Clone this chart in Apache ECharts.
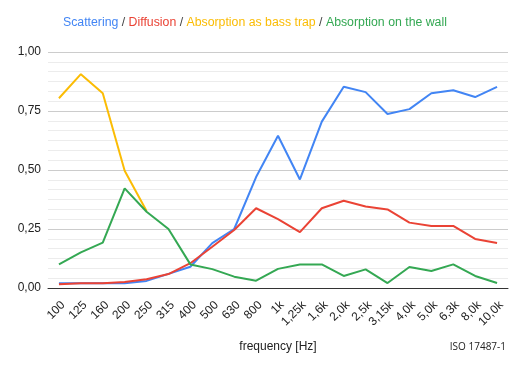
<!DOCTYPE html>
<html>
<head>
<meta charset="utf-8">
<script src="https://cdn.jsdelivr.net/npm/echarts@6/dist/echarts.min.js"></script>
<style>
html,body{margin:0;padding:0;background:#fff;}
#chart{width:527px;height:371px;}
</style>
</head>
<body>
<div id="chart"></div>
<script>
var categories = ['100','125','160','200','250','315','400','500','630','800','1k','1,25k','1,6k','2,0k','2,5k','3,15k','4,0k','5,0k','6,3k','8,0k','10,0k'];
var scattering = [0.02,0.02,0.02,0.02,0.03,0.06,0.09,0.19,0.25,0.47,0.645,0.46,0.705,0.853,0.83,0.737,0.758,0.825,0.838,0.809,0.852];
var diffusion  = [0.016,0.02,0.02,0.025,0.037,0.059,0.105,0.175,0.246,0.338,0.292,0.237,0.338,0.370,0.345,0.333,0.277,0.263,0.263,0.208,0.191];
var bassTrap   = [0.804,0.906,0.825,0.497,0.326,null,null,null,null,null,null,null,null,null,null,null,null,null,null,null,null];
var wall       = [0.100,0.151,0.192,0.422,0.323,0.25,0.100,0.080,0.048,0.031,0.081,0.100,0.100,0.051,0.079,0.021,0.089,0.072,0.100,0.051,0.021];
var yTicks = [0, 0.25, 0.5, 0.75, 1];

var FONT = 'Arial, "Liberation Sans", sans-serif';
var TS = 12.3;
var chart = echarts.init(document.getElementById('chart'), null, {renderer:'canvas'});
function mk(name, data, color){
  return {name:name, type:'line', data:data, symbol:'none', smooth:false,
    lineStyle:{width:2, color:color}, itemStyle:{color:color}, connectNulls:false};
}
chart.setOption({
  animation:false,
  backgroundColor:'#fff',
  title:{
    text:'{b|Scattering}{g| / }{r|Diffusion}{g| / }{y|Absorption as bass trap}{g| / }{gr|Absorption on the wall}',
    left:58, top:12,
    textStyle:{
      fontFamily:FONT, fontSize:TS, fontWeight:'normal',
      rich:{
        b:{color:'#4285F4', fontFamily:FONT, fontSize:TS},
        r:{color:'#EA4335', fontFamily:FONT, fontSize:TS},
        y:{color:'#FBBC04', fontFamily:FONT, fontSize:TS},
        gr:{color:'#34A853', fontFamily:FONT, fontSize:TS},
        g:{color:'#444', fontFamily:FONT, fontSize:TS}
      }
    }
  },
  grid:{left:48, right:19, top:52, bottom:83, containLabel:false},
  xAxis:{
    type:'category', data:categories, boundaryGap:true,
    name:'frequency [Hz]', nameLocation:'middle', nameGap:53,
    nameTextStyle:{fontFamily:FONT, fontSize:12, color:'#222'},
    axisLine:{show:true, lineStyle:{color:'#333', width:1}},
    axisTick:{show:false},
    axisLabel:{rotate:45, interval:0, margin:11, verticalAlign:'top', fontFamily:FONT, fontSize:12, color:'#222'},
    splitLine:{show:false}
  },
  yAxis:{
    type:'value', min:yTicks[0], max:yTicks[yTicks.length-1], interval:0.25,
    axisLine:{show:false}, axisTick:{show:false},
    axisLabel:{margin:7, fontFamily:FONT, fontSize:12, color:'#222',
      formatter:function(v){return v.toFixed(2).replace('.',',');}},
    splitLine:{show:true, lineStyle:{color:'#cccccc', width:1}},
    minorTick:{show:false, splitNumber:6},
    minorSplitLine:{show:true, lineStyle:{color:'#ececec', width:1}}
  },
  graphic:[{type:'text', right:21, top:342,
    style:{text:'ISO 17487-1', font:'10px "Open Sans", sans-serif', fill:'#222'}}],
  series:[
    mk('Scattering', scattering, '#4285F4'),
    mk('Diffusion', diffusion, '#EA4335'),
    mk('Absorption as bass trap', bassTrap, '#FBBC04'),
    mk('Absorption on the wall', wall, '#34A853')
  ]
});
</script>
</body>
</html>
